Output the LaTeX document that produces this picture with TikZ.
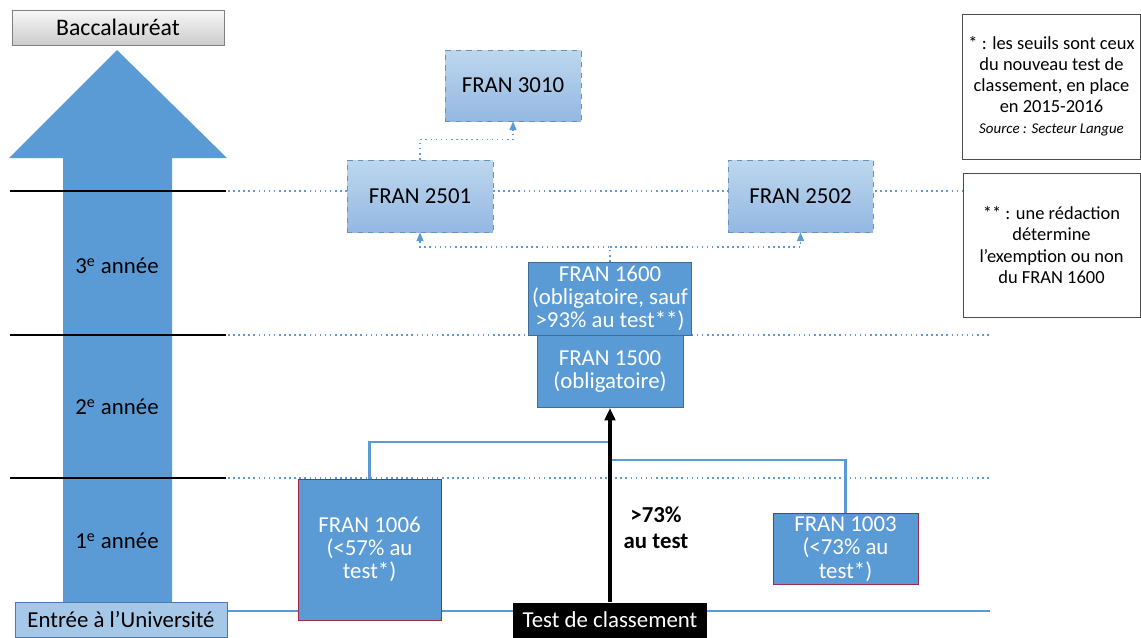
\documentclass[tikz,border=0pt]{standalone}
\usepackage{fontspec}
\setmainfont{Carlito}
\usetikzlibrary{arrows.meta}
\definecolor{bleu}{HTML}{5B9BD5}
\definecolor{bleuclair}{HTML}{BDD7EE}
\definecolor{bleumoyen}{HTML}{94B8E2}
\definecolor{bordeau}{HTML}{9E2A45}
\begin{document}
\begin{tikzpicture}[x=0.02cm,y=-0.02cm,
    font=\fontsize{13}{13.2}\selectfont,
    cours/.style={draw=bordeau,fill=bleu,text=white,align=center,inner sep=2pt},
    option/.style={draw=bleu!70!gray,dashed,top color=bleuclair,bottom color=bleumoyen,align=center},
    note/.style={draw=gray!60!black,align=center,font=\fontsize{10.5}{12}\selectfont},
    pointille/.style={dotted,bleu,line width=0.9pt},
    liaison/.style={bleu,line width=1.2pt}]
\useasboundingbox (0,0) rectangle (1141,637);
% grande fleche
\fill[bleu] (117,50) -- (227,158) -- (172,158) -- (172,602) -- (63,602) -- (63,158) -- (9,158) -- cycle;
\foreach \y [count=\n from 1] in {191,335,478} {
    \draw[black,line width=1.2pt] (10,\y) -- (226,\y);
    \draw[pointille] (228,\y) -- (\ifnum\n=1 963\else 990\fi,\y);
}
\draw[liaison] (227,611) -- (990,611);
\node[draw=gray,top color=gray!6,bottom color=gray!40,minimum width=212*0.02cm,minimum height=35*0.02cm,font=\fontsize{13.5}{14}\selectfont] (bac) at (118,27.5) {Baccalauréat};
\node[draw=bleu!80!black,fill=bleu!55,minimum width=212*0.02cm,minimum height=35*0.02cm,font=\fontsize{13}{14}\selectfont] (entree) at (121,620) {Entrée à l’Université};
\node (an3) at (117,266) {3\textsuperscript{e} année};
\node (an2) at (117,407) {2\textsuperscript{e} année};
\node (an1) at (117,541) {1\textsuperscript{e} année};
% cours
\node[cours,minimum width=143*0.02cm,minimum height=141*0.02cm] (f1006) at (369.5,549.5) {FRAN 1006\\(<57\% au\\test*)};
\node[cours,minimum width=145*0.02cm,minimum height=70*0.02cm] (f1003) at (845.5,549) {FRAN 1003\\(<73\% au\\test*)};
\node[cours,draw=bleu!70!black,minimum width=146*0.02cm,minimum height=73*0.02cm] (f1600) at (610,298.5) {FRAN 1600\\(obligatoire, sauf\\>93\% au test**)};
\node[cours,draw=bleu!70!black,minimum width=146*0.02cm,minimum height=72*0.02cm,anchor=north] (f1500) at (f1600.south) {FRAN 1500\\(obligatoire)};
\node[option,minimum width=146*0.02cm,minimum height=72*0.02cm] (f2501) at (420,196) {FRAN 2501};
\node[option,minimum width=145*0.02cm,minimum height=72*0.02cm] (f2502) at (800.5,196) {FRAN 2502};
\node[option,minimum width=136*0.02cm,minimum height=71*0.02cm] (f3010) at (513,85.5) {FRAN 3010};
\node[fill=black,text=white,minimum width=194*0.02cm,minimum height=35*0.02cm,font=\fontsize{13}{14}\selectfont] (test) at (610,620) {Test de classement};
\node[align=center,font=\fontsize{13}{15}\bfseries] (seuil) at (656,528) {>73\%\\au test};
% notes
\node[note,minimum width=177*0.02cm,minimum height=145*0.02cm] (note1) at (1051.5,86.5) {* : les seuils sont ceux\\du nouveau test de\\classement, en place\\en 2015-2016\\{\fontsize{8.5}{10}\itshape Source : Secteur Langue}};
\node[note,minimum width=177*0.02cm,minimum height=144*0.02cm] (note2) at (1051.5,245) {** : une rédaction\\détermine\\l’exemption ou non\\du FRAN 1600};
% liaisons
\coordinate (j1) at (609,442);
\coordinate (j2) at (609,460);
\coordinate (k) at (610,247);
\draw[liaison] (f1006.north) |- (j1);
\draw[liaison] (j2) -| (f1003.north);
\draw[black,line width=2pt,-{Triangle[length=7pt,width=6pt]}] (test.north) -- (f1500.south);
\draw[pointille,-{Triangle[length=5pt,width=4pt]}] (f1600.north) -- (k) -| (f2501.south);
\draw[pointille,-{Triangle[length=5pt,width=4pt]}] (k) -| (f2502.south);
\draw[pointille,-{Triangle[length=5pt,width=4pt]}] (f2501.north) -- ++(0,-20) -| (f3010.south);
\end{tikzpicture}
\end{document}
